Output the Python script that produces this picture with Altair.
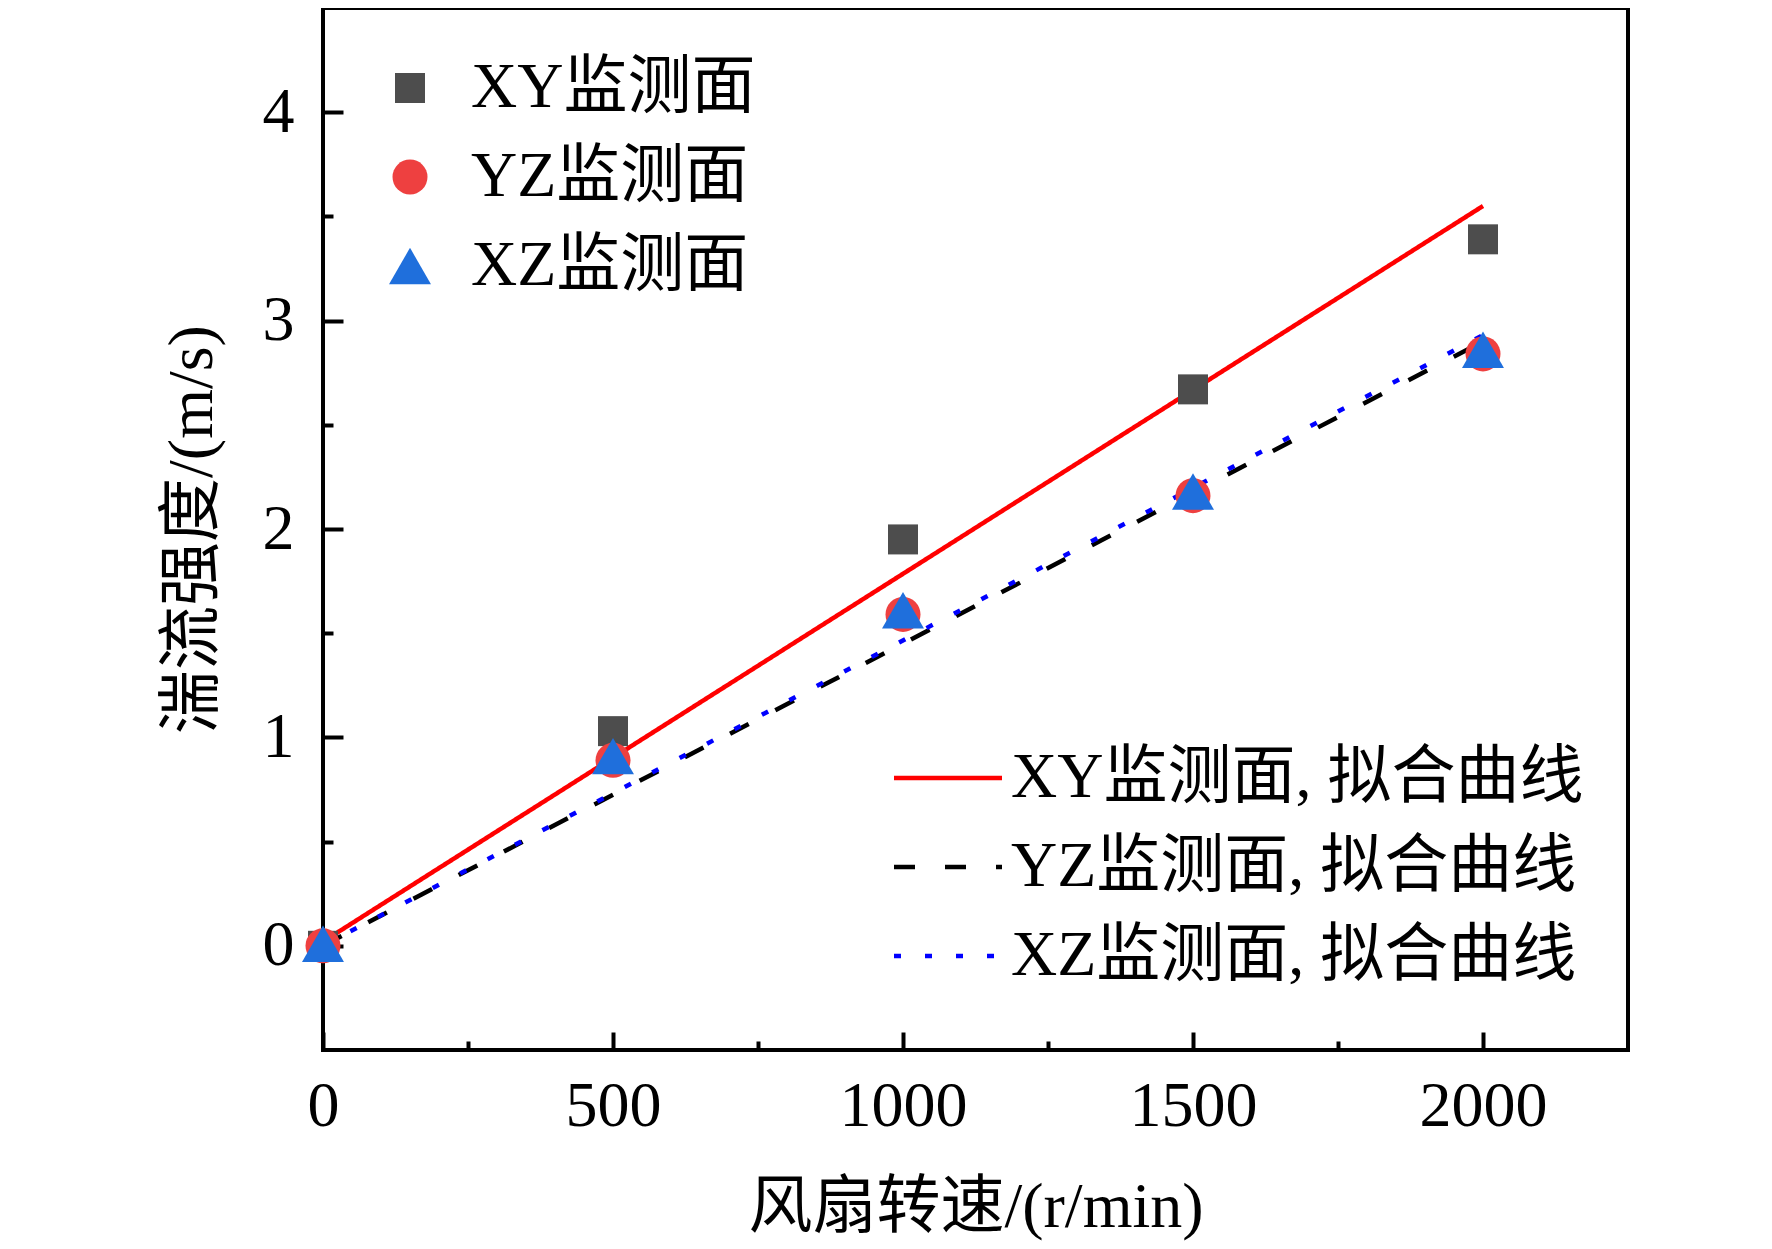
import altair as alt
import pandas as pd

# ---- data ----
speed = [0, 500, 1000, 1500, 2000]
xy_vals = [0.00, 1.03, 1.95, 2.67, 3.39]
yz_vals = [0.00, 0.89, 1.59, 2.16, 2.84]
xz_vals = [0.01, 0.91, 1.61, 2.18, 2.86]

fit_x = [0, 2000]
xy_fit = [0.02, 3.55]
yz_fit = [0.00, 2.90]
xz_fit = [0.00, 2.93]

series = ["XY监测面", "YZ监测面", "XZ监测面"]
fit_series = ["XY监测面, 拟合曲线", "YZ监测面, 拟合曲线", "XZ监测面, 拟合曲线"]

x_major = [0, 500, 1000, 1500, 2000]
x_minor = [250, 750, 1250, 1750]
y_major = [0, 1, 2, 3, 4]
y_minor = [0.5, 1.5, 2.5, 3.5]

x_title = "风扇转速/(r/min)"
y_title = "湍流强度/(m/s)"

pts = pd.DataFrame({
    "x": speed * 3,
    "y": xy_vals + yz_vals + xz_vals,
    "series": [s for s in series for _ in speed],
})
fits = pd.DataFrame({
    "x": fit_x * 3,
    "y": xy_fit + yz_fit + xz_fit,
    "fit": [f for f in fit_series for _ in fit_x],
})

FONT = "Liberation Serif, Noto Sans CJK SC"
x_scale = alt.Scale(domain=[0, 2250], nice=False, zero=False)
y_scale = alt.Scale(domain=[-0.5, 4.5], nice=False, zero=False)

# minor ticks layer (invisible marks, axis only)
minor = alt.Chart(pts).mark_point(opacity=0).encode(
    x=alt.X("x:Q", scale=x_scale, axis=alt.Axis(
        orient="bottom", values=x_minor, labels=False, domain=False, grid=False,
        ticks=True, tickSize=9, tickWidth=4, tickColor="black", offset=-9, title=None)),
    y=alt.Y("y:Q", scale=y_scale, axis=alt.Axis(
        orient="left", values=y_minor, labels=False, domain=False, grid=False,
        ticks=True, tickSize=10, tickWidth=4, tickColor="black", offset=-10, title=None)),
)

line_legend = alt.Legend(
    orient="none", legendX=566, legendY=738, title=None,
    labelFont=FONT, labelFontSize=64, labelColor="black", labelLimit=1000,
    labelOffset=31, rowPadding=25, padding=0,
    symbolType="M-2,0H2", symbolSize=2916, symbolOffset=27, symbolStrokeWidth=4.5,
)

lines = alt.Chart(fits).mark_line(strokeWidth=4.5).encode(
    x=alt.X("x:Q", scale=x_scale, axis=alt.Axis(
        orient="bottom", values=x_major, labels=False, domain=False, grid=False,
        ticks=True, tickSize=18, tickWidth=4, tickColor="black", offset=-18, title=None)),
    y=alt.Y("y:Q", scale=y_scale, axis=alt.Axis(
        orient="left", values=y_major, labels=False, domain=False, grid=False,
        ticks=True, tickSize=20, tickWidth=4, tickColor="black", offset=-20, title=None)),
    color=alt.Color("fit:N", scale=alt.Scale(domain=fit_series, range=["#ff0000", "#000000", "#0000ff"]),
                    legend=line_legend),
    strokeDash=alt.StrokeDash("fit:N", scale=alt.Scale(domain=fit_series, range=[[1, 0], [21, 30], [7, 24]]),
                              legend=line_legend),
)

pt_legend = alt.Legend(
    orient="none", legendX=55, legendY=48, title=None,
    labelFont=FONT, labelFontSize=64, labelColor="black", labelLimit=1000,
    labelOffset=29, rowPadding=25, padding=0,
    symbolStrokeWidth=0, symbolOpacity=1,
)

points = alt.Chart(pts).mark_point(filled=True, opacity=1, strokeWidth=0).encode(
    x=alt.X("x:Q", scale=x_scale, axis=alt.Axis(
        orient="bottom", values=x_major, ticks=False, domain=False, grid=False,
        labelFont=FONT, labelFontSize=64, labelColor="black", labelPadding=24, format="d",
        labelFlush=False,
        title=x_title, titleFont=FONT, titleFontSize=64, titleFontWeight="normal",
        titleColor="black", titlePadding=37)),
    y=alt.Y("y:Q", scale=y_scale, axis=alt.Axis(
        orient="left", values=y_major, ticks=False, domain=False, grid=False,
        labelFont=FONT, labelFontSize=64, labelColor="black", labelPadding=29, format="d",
        labelFlush=False,
        title=y_title, titleFont=FONT, titleFontSize=64, titleFontWeight="normal",
        titleColor="black", titlePadding=38)),
    color=alt.Color("series:N", scale=alt.Scale(domain=series, range=["#4d4d4d", "#ee4040", "#1f6fdc"]),
                    legend=pt_legend),
    shape=alt.Shape("series:N", scale=alt.Scale(domain=series, range=["square", "circle", "triangle-up"]),
                    legend=pt_legend),
    size=alt.Size("series:N", scale=alt.Scale(type="ordinal", domain=series, range=[900, 1225, 1760]),
                  legend=pt_legend),
)

chart = alt.layer(minor, lines, points).resolve_scale(
    color="independent", shape="independent", size="independent", strokeDash="independent"
).resolve_axis(
    x="independent", y="independent"
).properties(
    width=1305, height=1042,
    autosize=alt.AutoSizeParams(type="none"),
    padding={"left": 315, "top": 0, "right": 136, "bottom": 194},
).configure_view(stroke="black", strokeWidth=4)

chart.save("out.html", embed_options={"renderer": "svg", "actions": False})
